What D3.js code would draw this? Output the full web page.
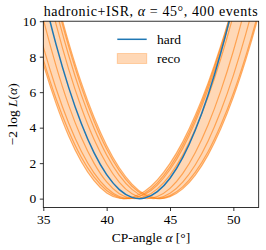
<!DOCTYPE html>
<html>
<head>
<meta charset="utf-8">
<script src="https://cdn.jsdelivr.net/npm/d3@7"></script>
<style>
  html, body { margin: 0; padding: 0; background: #fff; }
  svg { display: block; }
  text { font-family: "Liberation Serif", "DejaVu Serif", serif; fill: #000; }
</style>
</head>
<body>
<div id="chart"></div>
<script>
// CP-angle grid (degrees) the curves are read at
const alphaGrid = [33, 34, 35, 36, 37, 38, 39, 40, 41, 42, 43, 44, 45, 46, 47, 48, 49, 50, 51, 52, 53];

// -2 log L for the hard-process likelihood
const hardValues = [18.43, 14.79, 11.55, 8.71, 6.27, 4.23, 2.59, 1.35, 0.51, 0.07, 0.03, 0.39, 1.15, 2.31, 3.87, 5.83, 8.19, 10.95, 14.11, 17.67, 21.63];

// reco pseudo-experiments
const reco1 = [13.16, 10.18, 7.58, 5.37, 3.53, 2.08, 1.01, 0.32, 0.02, 0.07, 0.42, 1.06, 1.99, 3.20, 4.71, 6.51, 8.60, 10.98, 13.64, 16.60, 19.85];
const reco2 = [21.32, 17.69, 14.39, 11.43, 8.81, 6.53, 4.60, 3.00, 1.74, 0.82, 0.24, 0.01, 0.11, 0.55, 1.33, 2.45, 3.92, 5.72, 7.86, 10.34, 13.16];
const reco3 = [14.33, 11.26, 8.55, 6.22, 4.26, 2.67, 1.45, 0.60, 0.12, 0.01, 0.23, 0.77, 1.64, 2.82, 4.33, 6.15, 8.29, 10.76, 13.54, 16.65, 20.07];
const reco4 = [20.61, 16.94, 13.62, 10.67, 8.08, 5.85, 3.98, 2.46, 1.31, 0.52, 0.09, 0.02, 0.30, 0.93, 1.91, 3.24, 4.92, 6.95, 9.33, 12.06, 15.14];
const reco5 = [16.50, 13.11, 10.11, 7.50, 5.27, 3.44, 2.00, 0.94, 0.28, 0.01, 0.11, 0.55, 1.33, 2.45, 3.92, 5.72, 7.86, 10.34, 13.16, 16.33, 19.83];
const reco6 = [19.77, 16.08, 12.78, 9.85, 7.30, 5.14, 3.35, 1.95, 0.92, 0.27, 0.01, 0.12, 0.58, 1.41, 2.60, 4.15, 6.06, 8.32, 10.95, 13.94, 17.29];
const reco7 = [13.31, 10.40, 7.84, 5.64, 3.81, 2.33, 1.22, 0.46, 0.06, 0.02, 0.30, 0.89, 1.79, 3.00, 4.52, 6.35, 8.49, 10.94, 13.70, 16.76, 20.14];
const reco8 = [21.18, 17.50, 14.18, 11.20, 8.58, 6.30, 4.38, 2.80, 1.58, 0.70, 0.18, 0.00, 0.17, 0.66, 1.49, 2.64, 4.13, 5.94, 8.09, 10.56, 13.37];
// outer curves span the band, the others show as stripes inside it
const recoEdges = [reco1, reco2];
const recoInner = [reco3, reco4, reco5, reco6, reco7, reco8];

const xTicks = [35, 40, 45, 50];
const yTicks = [0, 2, 4, 6, 8, 10];
const xDomain = [35, 52];
const yDomain = [-0.5, 10];

const width = 266;
const height = 250;
const margin = { left: 43.3, right: 7.3, top: 21.2, bottom: 42.5 };
const blue = '#1f77b4';
const orange = '#ff7f0e';

const svg = d3.select('#chart')
  .append('svg')
  .attr('width', width)
  .attr('height', height);

const x = d3.scaleLinear().domain(xDomain).range([margin.left, width - margin.right]);
const y = d3.scaleLinear().domain(yDomain).range([height - margin.bottom, margin.top]);

svg.append('clipPath')
  .attr('id', 'plot-clip')
  .append('rect')
  .attr('x', x(xDomain[0]))
  .attr('y', y(yDomain[1]))
  .attr('width', x(xDomain[1]) - x(xDomain[0]))
  .attr('height', y(yDomain[0]) - y(yDomain[1]));

const plot = svg.append('g').attr('clip-path', 'url(#plot-clip)');

// reco band
const band = d3.area()
  .x((d, i) => x(alphaGrid[i]))
  .y0(d => y(d[0]))
  .y1(d => y(d[1]))
  .curve(d3.curveNatural);

const line = d3.line()
  .x((d, i) => x(alphaGrid[i]))
  .y(d => y(d))
  .curve(d3.curveNatural);

plot.append('path')
  .attr('d', band(alphaGrid.map((a, i) => [recoEdges[0][i], recoEdges[1][i]])))
  .attr('fill', orange)
  .attr('fill-opacity', 0.3)
  .attr('stroke', 'none');

recoEdges.concat(recoInner).forEach(vals => {
  plot.append('path')
    .attr('d', line(vals))
    .attr('fill', 'none')
    .attr('stroke', orange)
    .attr('stroke-opacity', 0.6)
    .attr('stroke-width', 1.2);
});

// hard curve
plot.append('path')
  .attr('d', line(hardValues))
  .attr('fill', 'none')
  .attr('stroke', blue)
  .attr('stroke-width', 1.5);

// Axes
const xAxis = d3.axisBottom(x).tickValues(xTicks).tickSize(3.5).tickPadding(3.5);
const yAxis = d3.axisLeft(y).tickValues(yTicks).tickSize(3.5).tickPadding(3.5);

const gx = svg.append('g')
  .attr('transform', `translate(0,${y(yDomain[0])})`)
  .call(xAxis);
const gy = svg.append('g')
  .attr('transform', `translate(${x(xDomain[0])},0)`)
  .call(yAxis);

[gx, gy].forEach(g => {
  g.select('.domain').remove();
  g.selectAll('line').attr('stroke', '#000').attr('stroke-width', 0.8);
  g.selectAll('text')
    .attr('font-family', '"Liberation Serif", serif')
    .attr('font-size', 13.5)
    .attr('fill', '#000');
});

// frame
svg.append('rect')
  .attr('x', x(xDomain[0]))
  .attr('y', y(yDomain[1]))
  .attr('width', x(xDomain[1]) - x(xDomain[0]))
  .attr('height', y(yDomain[0]) - y(yDomain[1]))
  .attr('fill', 'none')
  .attr('stroke', '#000')
  .attr('stroke-width', 0.8);

// Title
const title = svg.append('text')
  .attr('x', (x(xDomain[0]) + x(xDomain[1])) / 2)
  .attr('y', 15.5)
  .attr('text-anchor', 'middle')
  .attr('font-size', 14)
  .attr('letter-spacing', 0.6);
title.append('tspan').text('hadronic+ISR, ');
title.append('tspan').attr('font-style', 'italic').text('α');
title.append('tspan').text(' = 45°, 400 events');

// x label
const xLabel = svg.append('text')
  .attr('x', (x(xDomain[0]) + x(xDomain[1])) / 2)
  .attr('y', 242)
  .attr('text-anchor', 'middle')
  .attr('font-size', 13.5);
xLabel.append('tspan').text('CP-angle ');
xLabel.append('tspan').attr('font-style', 'italic').text('α');
xLabel.append('tspan').text(' [°]');

// y label
const yLabel = svg.append('text')
  .attr('transform', `translate(17,${(y(yDomain[0]) + y(yDomain[1])) / 2}) rotate(-90)`)
  .attr('text-anchor', 'middle')
  .attr('font-size', 13.5);
yLabel.append('tspan').text('−2 log ');
yLabel.append('tspan').attr('font-style', 'italic').text('L');
yLabel.append('tspan').text('(');
yLabel.append('tspan').attr('font-style', 'italic').text('α');
yLabel.append('tspan').text(')');

// Legend
const legend = svg.append('g');
legend.append('line')
  .attr('x1', 117.3)
  .attr('x2', 146.7)
  .attr('y1', 39.3)
  .attr('y2', 39.3)
  .attr('stroke', blue)
  .attr('stroke-width', 1.5);
legend.append('rect')
  .attr('x', 117.3)
  .attr('y', 53.5)
  .attr('width', 29.4)
  .attr('height', 10)
  .attr('fill', orange)
  .attr('fill-opacity', 0.3)
  .attr('stroke', orange)
  .attr('stroke-opacity', 0.3)
  .attr('stroke-width', 1);
legend.append('text')
  .attr('x', 157)
  .attr('y', 43.5)
  .attr('font-size', 13.5)
  .text('hard');
legend.append('text')
  .attr('x', 157)
  .attr('y', 63.3)
  .attr('font-size', 13.5)
  .text('reco');
</script>
</body>
</html>
